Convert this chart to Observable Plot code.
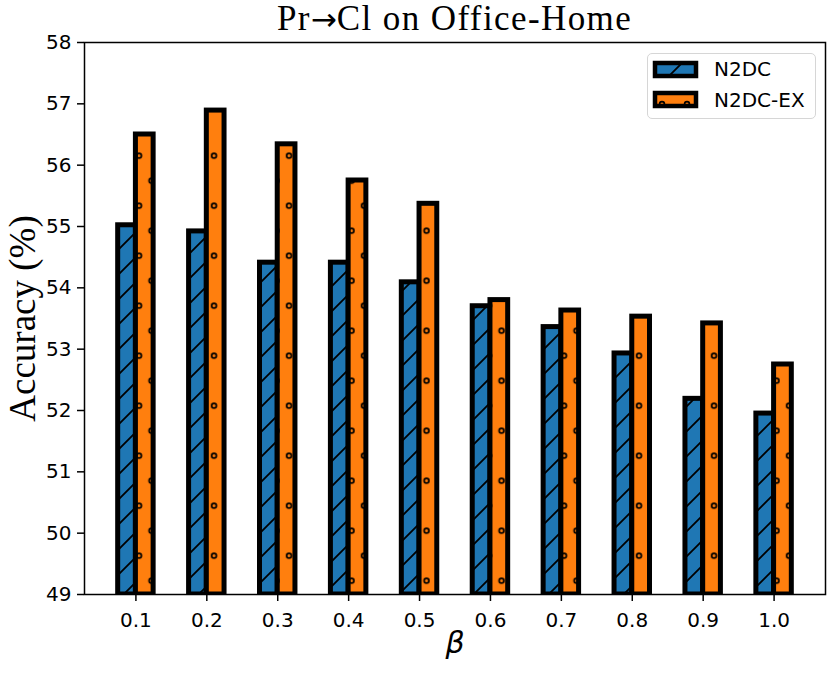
<!DOCTYPE html>
<html>
<head>
<meta charset="utf-8">
<script src="https://cdn.jsdelivr.net/npm/d3@7"></script>
<script src="https://cdn.jsdelivr.net/npm/@observablehq/plot@0.6"></script>
<style>
  body { margin: 0; background: #fff; }
  #wrap { position: relative; width: 831px; height: 674px; background: #fff; }
  #title { position: absolute; top: 0; left: 84px; width: 741px; text-align: center;
           font-family: "Liberation Serif", serif; font-size: 35px; line-height: 38px; letter-spacing: 1.4px;
           color: #000; white-space: nowrap; }
  #title .arr { font-family: "DejaVu Sans", sans-serif; font-size: 31px; letter-spacing: 0; }
  #chart svg { display: block; }
  .lg-box { position: absolute; left: 647px; top: 53px; width: 169px; height: 66px; box-sizing: border-box;
            border: 1.6px solid #d6d6d6; border-radius: 5px; background: rgba(255,255,255,0.85); }
  .lg-sw { position: absolute; }
  .lg-tx { position: absolute; left: 714px; font-family: "DejaVu Sans", sans-serif; font-size: 20px;
           line-height: 20px; color: #000; white-space: nowrap; }
</style>
</head>
<body>
<svg width="0" height="0" style="position:absolute">
  <defs>
    <pattern id="hatch-slash" patternUnits="userSpaceOnUse" x="18" y="0" width="25" height="25">
      <path d="M-6.25,6.25 L6.25,-6.25 M0,25 L25,0 M18.75,31.25 L31.25,18.75" stroke="#000" stroke-width="1.8" fill="none"/>
    </pattern>
    <pattern id="hatch-circles" patternUnits="userSpaceOnUse" x="7.75" y="-6.8" width="25" height="50">
      <circle cx="6.25" cy="12.5" r="2.4" fill="none" stroke="#000" stroke-width="1.7"/>
      <circle cx="18.75" cy="37.5" r="2.4" fill="none" stroke="#000" stroke-width="1.7"/>
    </pattern>
    <pattern id="swatch-slash" patternUnits="userSpaceOnUse" x="10" y="0" width="25" height="25">
      <path d="M-6.25,6.25 L6.25,-6.25 M0,25 L25,0 M18.75,31.25 L31.25,18.75" stroke="#000" stroke-width="1.8" fill="none"/>
    </pattern>
    <pattern id="swatch-circles" patternUnits="userSpaceOnUse" x="0" y="0" width="25" height="50">
      <circle cx="11" cy="15" r="2.4" fill="none" stroke="#000" stroke-width="1.7"/>
      <circle cx="23.5" cy="40" r="2.4" fill="none" stroke="#000" stroke-width="1.7"/>
    </pattern>
  </defs>
</svg>
<div id="wrap">
  <div id="chart"></div>
  <div id="title">Pr<span class="arr">→</span>Cl on Office-Home</div>
  <div class="lg-box"></div>
  <svg class="lg-sw" style="left:651px;top:59px" width="49" height="21">
    <rect x="4" y="4" width="41" height="13" fill="#1f77b4"/>
    <rect x="4" y="4" width="41" height="13" fill="url(#swatch-slash)"/>
    <rect x="4" y="4" width="41" height="13" fill="none" stroke="#000" stroke-width="4.5"/>
  </svg>
  <svg class="lg-sw" style="left:651px;top:89px" width="49" height="21">
    <rect x="4" y="4" width="41" height="13" fill="#ff7f0e"/>
    <rect x="4" y="4" width="41" height="13" fill="url(#swatch-circles)"/>
    <rect x="4" y="4" width="41" height="13" fill="none" stroke="#000" stroke-width="4.5"/>
  </svg>
  <div class="lg-tx" style="top:59.4px">N2DC</div>
  <div class="lg-tx" style="top:90.4px">N2DC-EX</div>
</div>
<script>
// ---- data ----
const betas = [0.1, 0.2, 0.3, 0.4, 0.5, 0.6, 0.7, 0.8, 0.9, 1.0];
const seriesNames = ["N2DC", "N2DC-EX"];
const n2dc   = [55.02, 54.92, 54.41, 54.41, 54.09, 53.70, 53.36, 52.93, 52.19, 51.95];
const n2dcEx = [56.50, 56.89, 56.34, 55.75, 55.37, 53.80, 53.63, 53.53, 53.42, 52.75];
const yTicks = [49, 50, 51, 52, 53, 54, 55, 56, 57, 58];
const yBase = 49;
const yTop = 58;
const barWidth = 0.025;           // each bar's width in beta units (grouped bars side by side)
const seriesColors = ["#1f77b4", "#ff7f0e"];
const seriesHatches = ["url(#hatch-slash)", "url(#hatch-circles)"];

// grouped bar layout like matplotlib: first series left of the tick, second right of it
const valuesBySeries = [n2dc, n2dcEx];
const rows = seriesNames.map((s, k) =>
  betas.map((b, i) => ({
    series: s,
    x1: b + (k - 1) * barWidth,
    x2: b + k * barWidth,
    base: yBase,
    value: valuesBySeries[k][i]
  }))
);
// matplotlib default 5% x margins around the bar extent
const lo = d3.min(betas) - barWidth, hi = d3.max(betas) + barWidth;
const pad = 0.05 * (hi - lo);

const barMarks = rows.flatMap((d, k) => {
  const enc = {x1: "x1", x2: "x2", y1: "base", y2: "value"};
  return [
    Plot.rectY(d, {...enc, fill: seriesColors[k]}),
    Plot.rectY(d, {...enc, fill: seriesHatches[k]}),
    Plot.rectY(d, {...enc, fill: "none", stroke: "#000", strokeWidth: 5})
  ];
});

const H = 674, MB = 80;
const chart = Plot.plot({
  width: 831,
  height: H,
  marginTop: 42,
  marginBottom: MB,
  marginLeft: 84,
  marginRight: 6,
  style: {fontFamily: "DejaVu Sans", color: "#000", background: "#fff", overflow: "visible"},
  x: {domain: [lo - pad, hi + pad]},
  y: {domain: [yBase, yTop]},
  marks: [
    ...barMarks,
    Plot.frame({stroke: "#000", strokeWidth: 1.5}),
    Plot.axisY({ticks: yTicks, tickFormat: d => String(d), tickSize: 7, tickPadding: 6,
                fontSize: 20, strokeWidth: 1.5, label: null}),
    Plot.axisX({ticks: betas, tickFormat: d3.format(".1f"), tickSize: 7, tickPadding: 11,
                fontSize: 20, strokeWidth: 1.5, label: null}),
    Plot.text(["Accuracy (%)"], {frameAnchor: "left", textAnchor: "middle", rotate: -90, dx: -61,
                fontFamily: "Liberation Serif", fontSize: 37, fill: "#000"}),
    Plot.text(["β"], {frameAnchor: "bottom", dy: 58.4,
                fontFamily: "DejaVu Sans", fontStyle: "italic", fontSize: 30, fill: "#000"})
  ]
});

// clip bars to the plotting area bottom (as matplotlib clips patches to the axes)
const ns = "http://www.w3.org/2000/svg";
const defs = document.createElementNS(ns, "defs");
const cp = document.createElementNS(ns, "clipPath");
cp.setAttribute("id", "bar-clip");
cp.setAttribute("clipPathUnits", "userSpaceOnUse");
const cr = document.createElementNS(ns, "rect");
cr.setAttribute("x", -5000); cr.setAttribute("y", -5000);
cr.setAttribute("width", 10000); cr.setAttribute("height", 5000 + H - MB);
cp.appendChild(cr); defs.appendChild(cp);
chart.prepend(defs);
chart.querySelectorAll('g[aria-label="rect"]').forEach(g => g.setAttribute("clip-path", "url(#bar-clip)"));

document.getElementById("chart").appendChild(chart);
</script>
</body>
</html>
